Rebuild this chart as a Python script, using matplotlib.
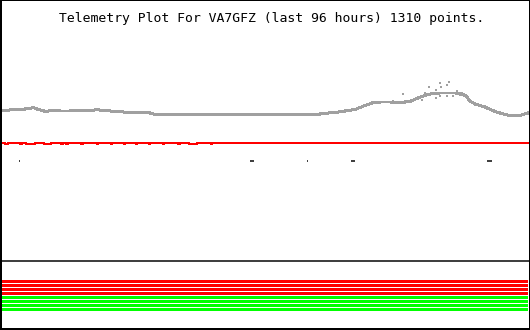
import numpy as np
import matplotlib
matplotlib.use('Agg')
import matplotlib.pyplot as plt

# time axis: hours since start of the 96 h window
# analog channel 1 (gray trace), raw levels
trace_t = [0, 1.46, 3.29, 5.11, 5.66, 6.39, 7.30, 8.03, 8.76, 10.59, 12.41, 14.24,
           16.06, 17.34, 18.25, 19.71, 21.54, 22.81, 27.01, 27.56, 31.57, 45.26,
           57.67, 58.40, 60.78, 62.60, 64.43, 66.25, 67.53, 68.99, 70.81, 72.64,
           74.46, 75.92, 77.22, 78.47, 79.94, 81.40, 82.70, 83.95, 84.68, 85.41,
           86.32, 88.14, 89.97, 91.79, 93.07, 94.53, 96.0]
trace_v = [219.5, 220, 220.5, 221.5, 222.5, 221, 219.5, 218.5, 219.2, 219, 219, 219.5,
           219, 220.5, 219.5, 219, 218.5, 217.5, 217, 216, 215.5, 215.5,
           215.5, 216.5, 217.5, 219, 220.5, 224.5, 227, 228, 228, 227.5,
           228.5, 232, 234.5, 236.5, 237, 237, 237, 236, 234, 229,
           226, 223, 218.5, 215.5, 214, 214.5, 217]
# scattered samples around the peak
spike_t = [69.0, 71.4, 73.2, 74.6, 75.9, 76.6, 77.2, 77.9, 78.4, 79.2, 79.2, 79.9,
           79.9, 80.2, 80.9, 81.3, 81.3, 81.6, 82.4, 83.0, 83.5]
spike_v = [227, 228.7, 236, 228, 232, 230.3, 237, 242.7, 237, 240.3, 232, 247,
           233.7, 242.7, 237, 244.7, 234, 248, 233.7, 238.7, 235.3]

# analog channel 2 (red), constant level with one-count dips
red_level = 187
red_dips = [(0.55, 1.1), (3.3, 3.65), (4.4, 6.0), (7.7, 8.95), (10.8, 11.1),
            (11.7, 12.0), (14.4, 14.8), (17.3, 17.5), (19.9, 20.1), (22.3, 22.45),
            (24.45, 24.65), (26.8, 27.0), (29.4, 29.6), (32.1, 32.5), (34.1, 35.6),
            (38.1, 38.3)]

# events (start, end) in hours
events = [(3.10, 3.28), (45.26, 45.99), (55.67, 55.85), (63.7, 64.4), (88.5, 89.4)]
event_level = 169
status_level = 69

# digital bits: 0 = off (red), 1 = on (green)
bits = [0, 0, 0, 0, 1, 1, 1, 1]
bit_top = 48.5
bit_step = 4

title = 'Telemetry Plot For VA7GFZ (last 96 hours) 1310 points.'

PX = 72 / 100  # points per pixel at dpi 100

fig = plt.figure(figsize=(5.3, 3.3), dpi=100)
ax = fig.add_axes([0, 0, 1, 1])
ax.set_xlim(-0.365, 96.365)
ax.set_ylim(0, 330)
ax.set_xticks([])
ax.set_yticks([])
for side, w in [('left', 4), ('bottom', 4), ('right', 3), ('top', 2)]:
    ax.spines[side].set_linewidth(w * PX)
    ax.spines[side].set_color('black')

# gray trace
ax.plot(trace_t, trace_v, color='#a0a0a0', lw=2 * PX, antialiased=False)
ax.scatter(spike_t, spike_v, s=(2 * PX) ** 2, marker='s', color='#a0a0a0',
           linewidths=0, antialiased=False)

# red trace built from dips
rt = [0]
rv = [red_level]
for a, b in red_dips:
    rt += [a, b]
    rv += [red_level - 1, red_level]
rt.append(96)
rv.append(red_level)
ax.plot(rt, rv, drawstyle='steps-post', color='#ff0000', lw=2 * PX, antialiased=False)

# status line with event marks
ax.plot([0, 96], [status_level, status_level], color='#404040', lw=2 * PX, antialiased=False)
for a, b in events:
    b = max(b, a + 0.19)
    ax.fill_between([a, b], event_level - 1, event_level + 1, color='#404040', lw=0,
                    antialiased=False)
    ax.fill_between([a, b], status_level - 1, status_level + 1, color='#00ff00', lw=0,
                    antialiased=False)

# digital bits
for i, b in enumerate(bits):
    y = bit_top - i * bit_step
    ax.fill_between([0, 96], y - 1.5, y + 1.5, color='#00ff00' if b else '#ff0000',
                    lw=0, antialiased=False)

fig.text(271.5 / 530, 1 - 22 / 330, title, ha='center', va='baseline',
         fontfamily='DejaVu Sans Mono', fontsize=9.45)

fig.savefig('out.png', dpi=100)
